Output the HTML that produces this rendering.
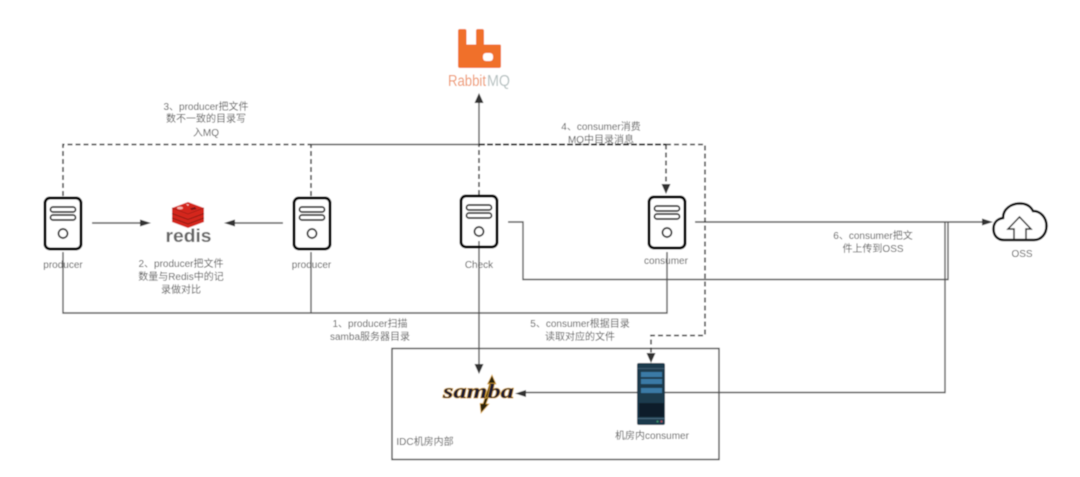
<!DOCTYPE html>
<html><head><meta charset="utf-8"><style>
html,body{margin:0;padding:0;background:#fff}
svg{display:block}
text{font-family:"Liberation Sans","Noto Sans CJK SC",sans-serif;font-size:10px;fill:#555;text-anchor:middle}
</style></head><body>
<svg width="1080" height="477" viewBox="0 0 1080 477" xmlns="http://www.w3.org/2000/svg">
<defs>
<filter id="b" x="0" y="0" width="100%" height="100%" filterUnits="objectBoundingBox"><feGaussianBlur stdDeviation="0.45"/></filter>
<g id="srv" fill="none" stroke="#000">
<rect x="1" y="1" width="36" height="51" rx="5" stroke-width="2.900"/>
<rect x="6.500" y="10" width="25" height="5" rx="2.500" stroke="#222" stroke-width="1.700"/>
<rect x="6.500" y="18" width="25" height="5" rx="2.500" stroke="#222" stroke-width="1.700"/>
<circle cx="19" cy="36.500" r="4.500" stroke="#222" stroke-width="1.700"/>
</g>
</defs>
<g filter="url(#b)">
<rect x="0" y="0" width="1080" height="477" fill="#fff"/>
<!-- box -->
<rect x="392" y="348.500" width="327" height="111" fill="none" stroke="#444" stroke-width="1.400"/>

<!-- solid connectors -->
<g fill="none" stroke="#555" stroke-width="1.400">
<path d="M63 252V313H667V252"/>
<path d="M311 252V313"/>
<path d="M311 144.500H479"/>
<path d="M479 144.500V98"/>
<path d="M479 241V366"/>
<path d="M508 222H523V279.500H948V222"/>
<path d="M695 222H984"/>
<path d="M945 222V392.500H524"/>
<path d="M92 223H142"/>
<path d="M283 223H232"/>
</g>
<!-- dashed connectors -->
<g fill="none" stroke="#333" stroke-width="1.500" stroke-dasharray="5 3">
<path d="M63 196V144.500H311"/>
<path d="M311 196V144.500"/>
<path d="M479 195V144.500"/>
<path d="M666 144.500H705V335.500H651V355"/>
<path d="M666 144.500V185"/>
</g>
<path d="M479 144.500H666" fill="none" stroke="#222" stroke-width="1.900" stroke-dasharray="6 2"/>
<!-- arrowheads -->
<g fill="#333">
<path d="M479 93l-4.500 10h9z"/>
<path d="M479 374l-4.500 -10h9z"/>
<path d="M666 194l-4.500 -10h9z"/>
<path d="M651 363l-4.500 -10h9z"/>
<path d="M151 223l-11 -3.500v7z"/>
<path d="M224 223l11 -3.500v7z"/>
<path d="M993 222l-11 -3.500v7z"/>
<path d="M515 393.500l11 -3.500v7z"/>
</g>

<!-- servers -->
<use href="#srv" x="44" y="197"/>
<use href="#srv" x="293" y="197"/>
<use href="#srv" x="460" y="195"/>
<use href="#srv" x="648" y="196"/>

<!-- RabbitMQ -->
<path d="M460 29H464.500A2 2 0 0 1 466.500 31V44.500H476V31A2 2 0 0 1 478 29H482A2 2 0 0 1 484 31V44.500H499.500A1.500 1.500 0 0 1 501 46V66A2 2 0 0 1 499 68H460A2 2 0 0 1 458 66V31A2 2 0 0 1 460 29Z" fill="#f0702a"/>
<rect x="483" y="53" width="10" height="8" rx="3" fill="#fff"/>
<text x="448" y="86" style="font-size:15.500px;fill:#ee9468;text-anchor:start" textLength="38" lengthAdjust="spacingAndGlyphs">Rabbit</text>
<text x="487" y="86" style="font-size:15.500px;fill:#b5c0c0;text-anchor:start" textLength="23" lengthAdjust="spacingAndGlyphs">MQ</text>

<!-- redis -->
<path d="M188 202L204 208V222L188 228L172 222V208Z" fill="#d4261e"/>
<path d="M172 213.500L188 219.500L204 213.500" fill="none" stroke="#8f1a15" stroke-width="1"/>
<path d="M172 218L188 224L204 218" fill="none" stroke="#8f1a15" stroke-width="1"/>
<path d="M172 208L188 214L204 208" fill="none" stroke="#a01d17" stroke-width=".8"/>
<ellipse cx="180" cy="208" rx="3" ry="1.400" fill="#f4b8b0"/>
<path d="M186 204l3 .5-1 1.500z" fill="#f6d0ca"/>
<path d="M190 208.500l5-1.500 1.500 2-5 1z" fill="#7a1512"/>
<text x="188.500" y="242" style="font-size:18.500px;font-weight:bold;fill:#666" textLength="46" lengthAdjust="spacingAndGlyphs">redis</text>

<!-- samba -->
<path d="M492 375L496 384H493.500L486 404H489L481 413L480 403.500H483L489.500 384H487.500Z" fill="#2a2410" stroke="#e0a52a" stroke-width=".7"/>
<text x="443" y="398" style="font-family:'Liberation Serif',serif;font-size:21px;font-weight:bold;font-style:italic;fill:#1e1a30;stroke:#e6a92c;stroke-width:1;paint-order:stroke;text-anchor:start" textLength="71" lengthAdjust="spacingAndGlyphs">samba</text>

<!-- rack -->
<rect x="637" y="363" width="28" height="62" rx="2" fill="#1f3a4e"/>
<rect x="637" y="368" width="28" height="1" fill="#3d5a6e"/>
<rect x="641" y="372" width="21" height="5" fill="#3a7aa6"/>
<rect x="641" y="379" width="21" height="5" fill="#3a7aa6"/>
<rect x="641" y="388" width="21" height="5" fill="#3a7aa6"/>
<rect x="639" y="403" width="25" height="14" fill="#0e1d2a"/>
<rect x="637" y="418" width="28" height="1" fill="#4a6a7e"/>
<circle cx="657.500" cy="421.500" r="1" fill="#3f9a6a"/>
<circle cx="661.500" cy="421.500" r="1" fill="#b04858"/>

<!-- cloud -->
<path d="M1004 240C997 240 993.500 235 993.500 229C993.500 223 997 219 1003 218C1003 209 1011 203.500 1020 203.500C1027 203.500 1031 207 1033 211C1041 211 1046.500 218 1046.500 226C1046.500 234 1041 240 1034 240Z" fill="#fff" stroke="#000" stroke-width="2.500"/>
<path d="M1014 240V229H1008L1019.500 217L1031 229H1026V240" fill="none" stroke="#222" stroke-width="1.500"/>

<!-- labels -->
<text x="63" y="268">producer</text>
<text x="311.500" y="268">producer</text>
<text x="479" y="268">Check</text>
<text x="666" y="264">consumer</text>
<text x="1022" y="257">OSS</text>
<text x="652" y="439">机房内consumer</text>
<text x="425" y="445">IDC机房内部</text>

<text x="206" y="110">3、producer把文件</text>
<text x="206" y="122">数不一致的目录写</text>
<text x="206" y="136">入MQ</text>

<text x="601" y="130">4、consumer消费</text>
<text x="601" y="143">MQ中目录消息</text>

<text x="181" y="267">2、producer把文件</text>
<text x="181" y="280">数量与Redis中的记</text>
<text x="181" y="293">录做对比</text>

<text x="370" y="327">1、producer扫描</text>
<text x="370" y="340">samba服务器目录</text>

<text x="580" y="327">5、consumer根据目录</text>
<text x="580" y="340">读取对应的文件</text>

<text x="873" y="239">6、consumer把文</text>
<text x="873" y="252">件上传到OSS</text>
</g>
</svg>
</body></html>
